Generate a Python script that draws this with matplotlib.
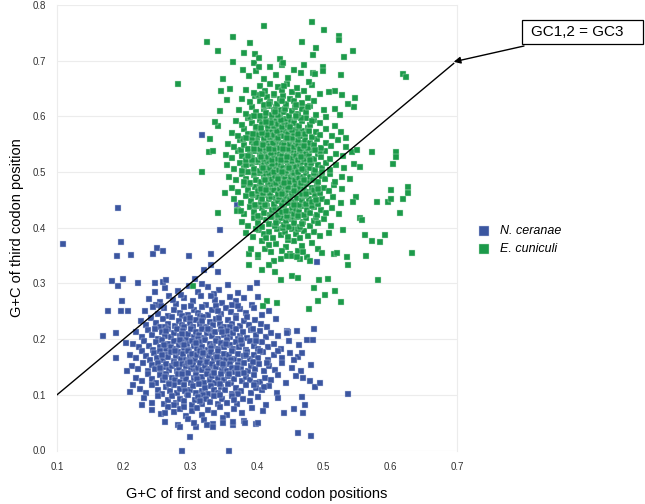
import matplotlib
matplotlib.use("Agg")
import matplotlib.pyplot as plt
from matplotlib.patches import Rectangle
import numpy as np

plt.rcParams['font.family'] = ['Liberation Sans', 'DejaVu Sans']

# values, in thousandths (x = GC1,2, y = GC3)
ceranae_core = [
    (262,291),(281,287),(298,296),(312,284),(327,293),(343,289),(356,298),(371,283),(247,284),(318,299),(389,291),(335,281),
    (238,272),(255,266),(268,278),(279,263),(291,274),(304,268),(316,277),(323,262),(337,271),(348,265),(359,276),(368,268),
    (381,273),(392,262),(249,261),(286,279),(331,278),(362,261),(274,270),(402,276),
    (232,251),(244,257),(252,246),(261,255),(267,242),(276,252),(284,247),(291,258),(297,243),(305,253),(311,247),(318,257),
    (326,244),(332,252),(339,259),(346,245),(353,255),(361,248),(368,241),(375,254),(384,247),(396,256),(408,243),(418,251),
    (256,259),(288,241),(314,242),(342,250),(371,259),(301,259),
    (226,233),(234,225),(241,238),(248,229),(255,222),(259,236),(266,228),(272,239),(277,223),(283,232),(288,226),(294,237),
    (299,229),(304,221),(309,234),(314,227),(319,239),(324,222),(329,231),(334,225),(339,237),(345,228),(351,222),(356,234),
    (362,227),(368,238),(374,224),(381,232),(388,226),(397,235),(406,228),(415,222),(428,236),(262,221),(291,221),(317,232),
    (343,238),(359,221),(385,239),(300,238),
    (219,213),(228,204),(236,217),(242,208),(247,219),(252,201),(257,212),(262,206),(267,218),(271,203),(276,211),(280,219),
    (284,205),(289,214),(293,201),(297,209),(301,218),(305,204),(309,213),(313,207),(317,219),(321,202),(325,211),(329,216),
    (333,205),(337,213),(341,201),(346,218),(350,208),(355,214),(359,203),(364,211),(369,219),(374,206),(379,213),(385,202),
    (391,216),(398,208),(405,214),(413,203),(421,211),(432,206),(445,215),(264,214),(287,209),(311,201),(327,219),(348,212),
    (372,200),(394,219),
    (214,192),(223,185),(231,197),(238,188),(244,181),(249,194),(254,186),(258,198),(263,183),(267,191),(271,186),(275,197),
    (279,182),(283,190),(287,195),(291,184),(295,192),(298,181),(302,197),(306,188),(310,183),(314,194),(318,186),(322,199),
    (326,181),(330,191),(334,187),(338,196),(342,182),(346,193),(351,185),(355,198),(360,189),(364,183),(369,195),(373,186),
    (378,192),(383,181),(389,197),(395,188),(401,183),(408,194),(416,186),(425,192),(436,183),(448,196),(463,189),(261,189),
    (285,199),(308,193),(331,184),(353,191),(376,199),(398,196),(290,189),
    (209,171),(219,166),(227,178),(234,169),(240,162),(245,175),(250,167),(255,179),(259,163),(263,172),(267,168),(271,177),
    (275,161),(279,170),(282,176),(286,165),(289,173),(293,162),(296,179),(300,168),(303,174),(307,163),(310,171),(314,178),
    (317,166),(321,173),(324,161),(328,169),(331,177),(335,164),(338,172),(342,179),(346,166),(350,174),(354,162),(358,171),
    (362,178),(366,165),(371,173),(375,161),(380,169),(385,177),(390,164),(396,172),(402,167),(409,176),(417,163),(426,171),
    (437,166),(449,175),(462,168),(257,171),(277,179),(298,161),(319,175),(340,168),(361,163),(383,172),(405,179),(431,178),
    (212,151),(221,146),(229,158),(236,142),(242,153),(247,147),(252,157),(256,141),(260,150),(264,156),(268,144),(272,152),
    (276,159),(280,143),(283,149),(287,155),(290,141),(294,152),(297,158),(301,146),(304,153),(308,142),(311,149),(315,157),
    (318,144),(322,151),(325,159),(329,147),(332,155),(336,141),(339,150),(343,158),(347,145),(351,152),(355,143),(359,156),
    (363,148),(367,141),(372,154),(376,146),(381,158),(386,142),(391,151),(397,147),(403,156),(410,143),(418,152),(427,145),
    (438,157),(452,149),(466,142),(481,153),(254,149),(279,155),(300,159),(326,142),(349,156),(370,149),(394,159),(415,158),
    (218,131),(228,124),(236,137),(243,128),(249,121),(254,135),(259,127),(264,138),(268,122),(273,131),(277,126),(281,137),
    (285,123),(289,133),(293,128),(297,139),(301,121),(305,130),(309,136),(313,125),(317,132),(321,121),(325,138),(329,127),
    (333,134),(337,122),(342,131),(346,137),(351,126),(356,133),(361,121),(366,129),(371,138),(377,124),(383,132),(389,127),
    (396,136),(404,123),(412,131),(421,126),(431,135),(443,122),(458,133),(262,132),(287,138),(310,129),(335,139),(358,137),
    (380,139),(399,121),
    (224,111),(234,104),(243,117),(251,108),(258,101),(264,114),(270,106),(275,118),(280,103),(285,111),(290,117),(295,102),
    (299,109),(304,115),(308,104),(313,119),(317,107),(322,113),(326,101),(331,116),(336,108),(341,103),(346,114),(352,109),
    (357,119),(363,102),(369,112),(376,106),(383,117),(391,104),(399,113),(408,108),(418,116),(430,103),(268,119),(292,107),
    (319,100),(344,119),(372,101),(395,118),
    (231,94),(242,86),(252,97),(260,83),(267,91),(273,98),(279,85),(285,93),(291,88),(296,99),(302,82),(307,91),
    (312,96),(318,84),(323,93),(329,87),(335,98),(341,83),(348,92),(355,86),(362,97),(370,84),(379,93),(389,88),
    (401,96),(414,82),(276,81),(315,89),(344,99),(366,91),
    (243,73),(256,66),(266,78),(276,69),(285,74),(294,62),(302,71),(310,77),(318,64),(327,72),(336,67),(345,79),
    (355,63),(366,74),(378,68),(392,76),(409,71),(290,79),
    (262,52),(281,46),(296,57),(308,43),(321,54),(334,48),(349,58),(364,45),(381,53),(398,47),
]
ceranae_sparse = [
    (109,370),(192,435),(196,374),(190,350),(211,351),(244,353),(250,364),(259,359),(298,350),(331,353),(317,567),
    (370,440),(345,396),(443,410),(182,304),(199,308),(192,296),(222,300),(247,300),(259,302),(263,307),(307,308),
    (331,333),(320,324),(341,320),(400,300),(197,268),(177,251),(196,251),(207,251),(169,206),(188,211),(203,193),
    (188,167),(205,143),(210,105),(214,117),(228,81),(262,67),(285,43),(287,0),(358,0),(300,24),(305,50),(325,46),
    (334,42),(349,49),(364,52),(382,49),(401,49),(410,114),(447,213),(460,214),(445,211),(455,162),(467,175),(475,198),
    (484,198),(486,218),(490,339),(469,130),(480,125),(487,114),(495,121),(455,74),(467,96),(472,82),(469,67),(461,31),
    (481,26),(440,67),(431,94),(536,101),
]
cuniculi_core = [
    (388,352),(401,347),(412,362),(421,356),(429,371),(436,344),(443,365),(449,352),(455,376),(462,359),(468,368),(475,348),
    (483,373),(491,361),(408,376),(426,341),(447,378),(465,343),(437,359),(418,369),
    (383,391),(394,384),(403,396),(411,388),(418,393),(424,381),(430,398),(436,387),(442,392),(447,383),(453,397),(458,389),
    (464,382),(470,395),(477,386),(485,393),(495,385),(508,391),(414,381),(439,399),(461,398),(398,398),
    (378,411),(387,404),(395,417),(402,408),(408,401),(413,414),(418,406),(423,419),(427,403),(432,412),(436,418),(440,405),
    (444,413),(448,401),(452,416),(456,408),(460,419),(464,402),(469,411),(474,417),(479,404),(485,413),(492,408),(500,416),
    (511,403),(405,419),(429,409),(446,419),(467,406),(489,419),
    (372,432),(381,425),(389,437),(396,428),(402,421),(407,435),(411,427),(415,439),(419,423),(423,431),(427,436),(431,422),
    (434,433),(438,428),(441,439),(445,421),(448,430),(452,436),(455,424),(459,433),(463,428),(467,439),(471,422),(475,431),
    (480,426),(485,437),(490,423),(496,432),(503,427),(512,436),(523,424),(399,439),(421,420),(443,430),(462,421),(482,439),
    (365,452),(376,445),(384,457),(391,448),(397,441),(402,455),(406,447),(410,459),(414,443),(418,451),(421,456),(425,442),
    (428,453),(431,448),(435,458),(438,441),(441,450),(444,457),(447,444),(450,452),(453,459),(457,446),(460,454),(463,441),
    (467,449),(470,457),(474,443),(478,452),(482,447),(487,458),(492,442),(498,451),(505,446),(514,456),(526,444),(394,459),
    (412,441),(433,455),(455,441),(472,459),(489,449),(408,451),
    (362,471),(372,465),(380,477),(387,468),(392,461),(397,474),(401,466),(405,478),(409,462),(412,471),(416,476),(419,463),
    (422,472),(425,467),(428,478),(431,461),(434,470),(437,476),(440,464),(443,473),(446,468),(449,479),(452,462),(455,471),
    (458,477),(461,465),(464,473),(467,461),(471,469),(474,478),(478,464),(482,472),(486,467),(490,477),(495,462),(501,471),
    (508,466),(516,476),(528,469),(389,479),(406,470),(421,479),(438,461),(456,466),(473,461),(492,469),(414,467),(447,474),
    (358,491),(369,485),(377,497),(384,488),(390,481),(395,494),(399,486),(403,498),(406,482),(410,491),(413,496),(416,483),
    (419,492),(422,487),(425,498),(428,481),(431,490),(434,496),(436,484),(439,493),(442,488),(445,499),(448,482),(451,491),
    (454,497),(457,485),(460,494),(463,489),(466,481),(469,492),(473,498),(476,484),(480,491),(484,486),(488,497),(492,482),
    (497,493),(502,488),(509,496),(517,483),(527,492),(540,487),(381,482),(396,499),(412,486),(427,493),(441,481),(456,499),
    (471,486),(486,499),(432,487),(418,499),
    (355,512),(366,505),(374,517),(381,508),(387,501),(392,514),(396,506),(400,518),(404,502),(407,511),(410,516),(413,503),
    (416,512),(419,507),(422,518),(425,501),(428,510),(430,516),(433,504),(436,513),(439,508),(441,519),(444,502),(447,511),
    (450,517),(453,505),(456,514),(459,509),(462,501),(465,512),(468,518),(471,504),(475,513),(479,508),(483,519),(487,503),
    (492,512),(497,507),(503,517),(510,504),(519,513),(531,508),(546,515),(378,502),(394,519),(409,508),(423,514),(438,501),
    (452,519),(467,506),(481,516),(498,501),(384,512),(448,507),(415,519),
    (353,531),(363,525),(371,537),(378,528),(384,521),(389,534),(393,526),(397,538),(401,522),(404,531),(407,536),(410,523),
    (413,532),(416,527),(419,538),(422,521),(425,530),(428,536),(431,524),(434,533),(437,528),(440,539),(443,522),(446,531),
    (449,537),(452,525),(455,534),(458,529),(461,521),(464,532),(467,538),(470,524),(474,533),(478,528),(482,539),(486,523),
    (491,532),(496,527),(502,537),(509,524),(518,533),(529,528),(542,536),(376,539),(392,522),(406,527),(421,534),(436,521),
    (451,539),(466,527),(480,521),(495,538),(387,529),(445,527),(412,539),
    (356,551),(366,545),(374,557),(381,548),(387,541),(392,554),(396,546),(400,558),(404,542),(407,551),(410,556),(413,543),
    (416,552),(419,547),(422,558),(425,541),(428,550),(431,556),(434,544),(437,553),(440,548),(443,559),(446,542),(449,551),
    (452,557),(455,545),(458,554),(461,549),(464,541),(468,552),(472,558),(476,544),(480,553),(485,548),(490,559),(496,543),
    (503,552),(511,547),(521,557),(534,545),(379,559),(395,542),(409,549),(424,553),(439,541),(454,559),(470,546),(487,540),
    (399,552),(430,559),(462,557),(418,541),
    (362,571),(372,565),(380,577),(387,568),(393,561),(398,574),(402,566),(406,578),(410,562),(413,571),(416,576),(419,563),
    (422,572),(425,567),(428,578),(431,561),(434,570),(437,576),(440,564),(443,573),(446,568),(449,579),(452,562),(456,571),
    (460,577),(464,565),(468,573),(472,568),(477,579),(482,563),(488,572),(495,567),(503,577),(513,564),(526,572),(384,562),
    (399,579),(415,566),(430,574),(445,561),(462,569),(478,574),(408,571),(452,575),(394,569),
    (368,591),(378,585),(386,597),(393,588),(399,581),(404,594),(408,586),(412,598),(416,582),(419,591),(422,596),(425,583),
    (428,592),(431,587),(434,598),(437,581),(440,590),(444,596),(447,584),(451,593),(455,588),(459,599),(463,582),(468,591),
    (473,597),(479,585),(486,594),(494,589),(504,598),(517,583),(390,599),(406,580),(421,588),(436,594),(450,581),(466,597),
    (482,591),(413,590),
    (373,611),(384,605),(392,617),(399,608),(405,601),(410,614),(414,606),(418,618),(422,602),(425,611),(429,616),(432,603),
    (436,612),(440,607),(444,618),(448,601),(452,610),(457,616),(462,604),(467,613),(473,608),(480,619),(489,603),(500,612),
    (395,601),(412,619),(427,607),(442,614),(458,601),(476,616),
    (378,631),(389,625),(397,637),(404,628),(410,621),(415,634),(420,626),(425,638),(430,622),(434,631),(439,636),(444,623),
    (449,632),(455,627),(461,638),(468,624),(476,633),(486,628),(401,639),(418,622),(437,627),(458,621),
    (384,648),(395,642),(404,654),(412,645),(419,658),(425,641),(431,652),(438,647),(445,659),(452,643),(460,651),(470,646),
    (482,656),(408,641),(441,655),
    (388,672),(399,681),(410,667),(419,688),(428,675),(437,693),(446,669),(455,684),(466,677),(478,662),(395,695),(471,692),
]
cuniculi_sparse = [
    (282,658),(325,733),(342,718),(318,500),(349,667),(364,743),(410,762),(482,769),(467,733),(500,756),(488,722),(390,731),
    (364,697),(380,714),(397,712),(379,683),(403,705),(403,689),(435,703),(439,696),(499,689),(499,682),(484,678),(487,676),
    (342,583),(328,536),(334,538),(352,463),(342,426),(370,430),(376,430),(523,745),(523,737),(544,718),(531,707),(484,710),
    (526,674),(619,676),(623,671),(572,536),(609,536),(608,527),(604,514),(554,509),(547,633),(546,617),(527,638),(517,646),
    (508,644),(495,641),(537,623),(517,614),(524,602),(534,561),(550,540),(626,473),(626,462),(601,468),(596,446),(601,451),
    (580,446),(619,451),(615,427),(548,455),(544,446),(554,417),(557,414),(562,387),(572,376),(584,374),(592,387),(529,396),
    (632,355),(469,357),(497,355),(515,353),(520,355),(535,348),(563,350),(480,340),(536,333),(493,306),(506,308),(581,307),
    (486,292),(502,279),(517,286),(492,268),(526,267),(478,254),(391,362),(388,333),(401,351),(407,324),(418,333),(427,321),
    (436,306),(452,313),(461,309),(445,349),(452,349),(460,347),(304,295),(415,268),(430,265),(409,260),(330,560),(337,590),
    (345,610),(355,630),(360,650),(346,645),
]

series_names = ['N. ceranae', 'E. cuniculi']
series_colors = ['#3b56a0', '#1c9a4a']
edge_colors = ['#c9d2ea', '#c2e6cc']
x_ticks = [0.1, 0.2, 0.3, 0.4, 0.5, 0.6, 0.7]
y_ticks = [0.0, 0.1, 0.2, 0.3, 0.4, 0.5, 0.6, 0.7, 0.8]
diag_ends = [0.1, 0.695]


def to_xy(points):
    arr = np.array(points, dtype=float) / 1000.0
    return arr[:, 0], arr[:, 1]


W, H = 645, 504
fig = plt.figure(figsize=(W / 100, H / 100), dpi=100)
ax = fig.add_axes([57 / W, 1 - 450.5 / H, 400 / W, 445.5 / H])

groups = [ceranae_core + ceranae_sparse, cuniculi_core + cuniculi_sparse]
for pts, name, col, ec in zip(groups, series_names, series_colors, edge_colors):
    xs, ys = to_xy(pts)
    ax.scatter(xs, ys, s=16, marker='s', color=col, edgecolors=ec,
               linewidths=0.3, label=name, zorder=3, clip_on=False)

ax.plot(diag_ends, diag_ends, color='black', lw=1.0, zorder=4)

ax.set_xlim(0.1, 0.7)
ax.set_ylim(0.0, 0.8)
ax.set_xticks(x_ticks)
ax.set_yticks(y_ticks)
ax.set_xticklabels([f'{t:.1f}' for t in x_ticks])
ax.set_yticklabels([f'{t:.1f}' for t in y_ticks])
ax.tick_params(length=0, labelsize=7, colors='#333333', pad=8)
ax.yaxis.grid(True, color='#ececec', lw=0.8)
ax.set_axisbelow(True)
for side in ['top', 'bottom']:
    ax.spines[side].set_visible(False)
for side in ['left', 'right']:
    ax.spines[side].set_color('#ececec')
    ax.spines[side].set_linewidth(0.8)

ax.set_xlabel('G+C of first and second codon positions', fontsize=10.5, labelpad=11)
ax.set_ylabel('G+C of third codon position', fontsize=10.5, labelpad=6)

ax.legend(loc='upper left', bbox_to_anchor=(1.02, 0.52), frameon=False,
          prop={'style': 'italic', 'size': 9}, markerscale=1.7,
          handletextpad=0.3, labelspacing=0.5, borderpad=0)

# annotation box with arrow pointing at the end of the diagonal
fig.patches.append(Rectangle((522 / W, 1 - 44 / H), 121 / W, 24 / H,
                             transform=fig.transFigure, fc='white', ec='black', lw=0.9))
fig.text(531 / W, 1 - 32 / H, 'GC1,2 = GC3', ha='left', va='center', fontsize=11)
ax.annotate('', xy=(0.695, 0.698), xycoords='data',
            xytext=(524 / W, 1 - 46 / H), textcoords='figure fraction',
            arrowprops=dict(arrowstyle='-|>', color='black', lw=1.0,
                            shrinkA=0, shrinkB=0, mutation_scale=10))

fig.savefig('out.png', dpi=100)
